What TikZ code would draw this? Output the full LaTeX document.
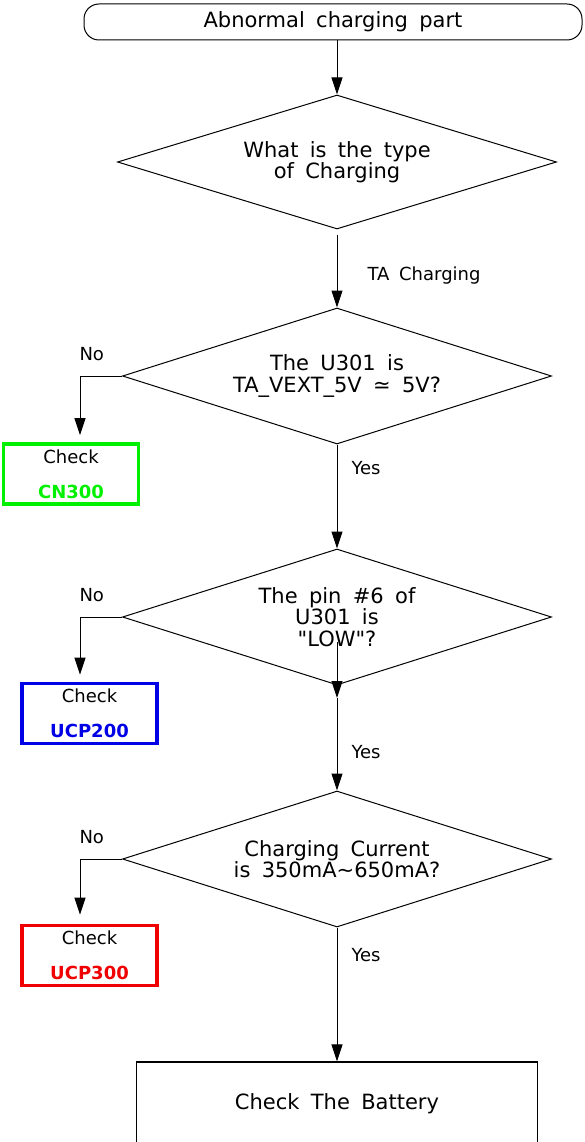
\documentclass[tikz,border=0pt]{standalone}
\usepackage{fontspec}
\setmainfont{DejaVu Sans}[WordSpace=1.7]
\usepackage{tikz}
\usetikzlibrary{arrows.meta,shapes.geometric}
\definecolor{chkgreen}{RGB}{0,240,0}
\definecolor{chkblue}{RGB}{0,0,230}
\definecolor{chkred}{RGB}{240,0,0}

\begin{document}
\begin{tikzpicture}[x=1pt,y=-1pt]
    \tikzset{startbox/.style = {rectangle, rounded corners=15pt, draw=black, line width=1pt, minimum width=498pt, minimum height=36pt, font=\fontsize{21}{21}\selectfont}}
    \tikzset{decision/.style = {diamond, aspect=3.2, draw=black, line width=1pt, inner sep=0pt, minimum width=429pt, minimum height=136pt, align=center, font=\fontsize{21}{21.5}\selectfont}}
    \tikzset{checkbox/.style = {rectangle, draw, line width=3.8pt, minimum width=135pt, minimum height=60pt, inner sep=0pt, align=center, font=\fontsize{18}{35}\selectfont}}
    \tikzset{finalbox/.style = {rectangle, draw=black, line width=1.2pt, minimum width=401pt, inner sep=0pt, text height=47pt, text depth=49pt, font=\fontsize{21}{21}\selectfont}}
    \tikzset{answer/.style = {inner sep=0pt, font=\fontsize{18}{18}\selectfont}}
    \tikzset{arrow/.style = {-{Triangle[length=17pt,width=11pt]}, line width=1pt}}
    \useasboundingbox (0,0) rectangle (584,1142);
    \node[startbox] (start) at (333,22) {Abnormal charging part};
    \node[decision, minimum width=439pt, minimum height=134pt] (type) at (337,162) {What is the type\\of Charging};
    \node[decision, below of=type, node distance=214pt] (vext) {The U301 is\\TA\_VEXT\_5V ≃ 5V?};
    \node[decision, below of=vext, node distance=241pt] (pin) {The pin \#6 of\\U301 is\\\textquotedbl LOW\textquotedbl?};
    \node[decision, below of=pin, node distance=242pt] (current) {Charging Current\\is 350mA\textasciitilde650mA?};
    \node[finalbox, below of=current, node distance=251pt] (battery) {Check The Battery};
    \node[checkbox, draw=chkgreen] (cn) at (71,474) {Check\\\textcolor{chkgreen}{\textbf{CN300}}};
    \node[checkbox, draw=chkblue] (ucpa) at (89.5,713.5) {Check\\\textcolor{chkblue}{\textbf{UCP200}}};
    \node[checkbox, draw=chkred] (ucpb) at (89.5,955.5) {Check\\\textcolor{chkred}{\textbf{UCP300}}};
    \coordinate[below of=pin, node distance=25pt] (pinin);
    \coordinate[below of=pin, node distance=81pt] (pinout);
    \draw[arrow] (start.south -| type) -- (type);
    \draw[arrow, shorten <=5pt] (type) -- node[answer, pos=0.595, right=30pt]{TA Charging} (vext);
    \draw[arrow] (vext) -- node[answer, pos=0.23, right=14pt]{Yes} (pin);
    \draw[arrow] (pinin) -- (pinout);
    \draw[arrow] (pinout) -- node[answer, pos=0.58, right=14pt]{Yes} (current);
    \draw[arrow] (current) -- node[answer, pos=0.207, right=14pt]{Yes} (battery);
    \draw[arrow] (vext.west) -| node[answer, pos=0.36, above=15pt]{No} ([xshift=9pt, yshift=7pt]cn.north);
    \draw[arrow] (pin.west) -| node[answer, pos=0.36, above=15pt]{No} ([xshift=-9.5pt, yshift=7pt]ucpa.north);
    \draw[arrow] (current.west) -| node[answer, pos=0.36, above=15pt]{No} ([xshift=-9.5pt, yshift=9pt]ucpb.north);
  \end{tikzpicture}
\end{document}
